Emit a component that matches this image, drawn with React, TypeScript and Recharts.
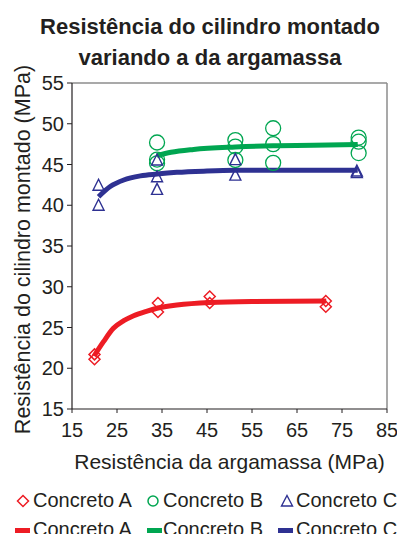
import React from 'react';
import {
  ComposedChart,
  Line,
  Scatter,
  XAxis,
  YAxis,
  ReferenceLine,
} from 'recharts';

// Pontos medidos (MPa): resistência da argamassa x resistência do cilindro
const pontosA = [
  { x: 20.0, y: 21.7 }, { x: 20.0, y: 21.1 },
  { x: 34.1, y: 28.0 }, { x: 34.1, y: 26.9 },
  { x: 45.6, y: 28.8 }, { x: 45.6, y: 28.0 },
  { x: 71.4, y: 28.25 }, { x: 71.4, y: 27.55 },
];
const pontosB = [
  { x: 33.9, y: 47.7 }, { x: 33.9, y: 45.6 }, { x: 33.9, y: 45.15 },
  { x: 51.3, y: 48.0 }, { x: 51.3, y: 47.2 }, { x: 51.3, y: 45.55 },
  { x: 59.7, y: 49.45 }, { x: 59.7, y: 47.5 }, { x: 59.7, y: 45.2 },
  { x: 78.7, y: 48.3 }, { x: 78.7, y: 47.8 }, { x: 78.7, y: 46.4 },
];
const pontosC = [
  { x: 20.9, y: 42.45 }, { x: 20.9, y: 40.0 },
  { x: 33.9, y: 45.55 }, { x: 33.9, y: 43.5 }, { x: 33.9, y: 41.95 },
  { x: 51.3, y: 45.6 }, { x: 51.3, y: 43.7 },
  { x: 78.3, y: 44.0 }, { x: 78.3, y: 44.2 },
];

// Curvas de tendência
const curvaA = [
  { x: 19.9, y: 21.5 }, { x: 22.0, y: 23.26 }, { x: 24.2, y: 24.9 }, { x: 26.5, y: 25.83 },
  { x: 28.7, y: 26.45 }, { x: 31.7, y: 27.02 }, { x: 33.9, y: 27.36 }, { x: 38.3, y: 27.76 },
  { x: 45.6, y: 28.08 }, { x: 55, y: 28.2 }, { x: 71.5, y: 28.25 },
];
const curvaB = [
  { x: 33.9, y: 46.1 }, { x: 37, y: 46.5 }, { x: 42, y: 46.85 }, { x: 51.3, y: 47.15 },
  { x: 59.7, y: 47.3 }, { x: 68.7, y: 47.35 }, { x: 78.5, y: 47.45 },
];
const curvaC = [
  { x: 20.9, y: 41.05 }, { x: 23.5, y: 42.3 }, { x: 26.5, y: 43.1 }, { x: 30.2, y: 43.6 },
  { x: 33.9, y: 43.83 }, { x: 38.3, y: 44.04 }, { x: 45, y: 44.2 }, { x: 51.3, y: 44.28 },
  { x: 65, y: 44.3 }, { x: 78.5, y: 44.3 },
];

const xTicks = [15, 25, 35, 45, 55, 65, 75, 85];
const yTicks = [15, 20, 25, 30, 35, 40, 45, 50, 55];

const VERMELHO = '#ED1C24';
const VERDE = '#00A651';
const AZUL = '#2E3192';
const TEXTO = '#231F20';
const FONTE = '"Liberation Sans", Arial, sans-serif';

const Losango = (props: any) => {
  const { cx, cy } = props;
  const r = 5.5;
  return (
    <path
      d={`M${cx},${cy - r}L${cx + r},${cy}L${cx},${cy + r}L${cx - r},${cy}Z`}
      fill="none"
      stroke={VERMELHO}
      strokeWidth={1.5}
    />
  );
};

const Circulo = (props: any) => {
  const { cx, cy } = props;
  return <circle cx={cx} cy={cy} r={7.5} fill="none" stroke={VERDE} strokeWidth={1.3} />;
};

const Triangulo = (props: any) => {
  const { cx, cy } = props;
  const h = 10;
  return (
    <path
      d={`M${cx},${cy - h / 2 - 1}L${cx + 5.5},${cy + h / 2}L${cx - 5.5},${cy + h / 2}Z`}
      fill="none"
      stroke={AZUL}
      strokeWidth={1.4}
    />
  );
};

// rótulo do eixo Y girado
const RotuloY = (props: any) => {
  const { viewBox } = props;
  const cx = viewBox.x + 23;
  const cy = viewBox.y + viewBox.height / 2 + 3.5;
  return (
    <text
      x={cx}
      y={cy}
      transform={`rotate(-90, ${cx}, ${cy})`}
      textAnchor="middle"
      dominantBaseline="central"
      fill={TEXTO}
      fontSize={21.5}
      fontFamily={FONTE}
    >
      Resistência do cilindro montado (MPa)
    </text>
  );
};

const legendaMarcadores = [
  { nome: 'Concreto A', icone: 'losango', x: 16, tx: 33 },
  { nome: 'Concreto B', icone: 'circulo', x: 146, tx: 163 },
  { nome: 'Concreto C', icone: 'triangulo', x: 280, tx: 296 },
];
const legendaLinhas = [
  { nome: 'Concreto A', cor: VERMELHO, x: 15, tx: 33 },
  { nome: 'Concreto B', cor: VERDE, x: 147, tx: 163 },
  { nome: 'Concreto C', cor: AZUL, x: 278, tx: 296 },
];

function IconeMarcador({ tipo }: { tipo: string }) {
  return (
    <svg width={14} height={14} style={{ display: 'block' }}>
      {tipo === 'losango' && <Losango cx={7} cy={7} />}
      {tipo === 'circulo' && <circle cx={7} cy={7} r={5} fill="none" stroke={VERDE} strokeWidth={1.5} />}
      {tipo === 'triangulo' && (
        <path d="M7,1.5L12.5,12L1.5,12Z" fill="none" stroke={AZUL} strokeWidth={1.4} />
      )}
    </svg>
  );
}

export default function App() {
  return (
    <div
      style={{
        position: 'relative',
        width: 405,
        height: 542,
        margin: -8,
        background: '#fff',
        fontFamily: FONTE,
        color: TEXTO,
        overflow: 'hidden',
      }}
    >
      <div
        style={{
          position: 'absolute',
          left: 10,
          width: 400,
          top: 11,
          textAlign: 'center',
          fontWeight: 'bold',
          fontSize: 22,
          lineHeight: '31px',
        }}
      >
        Resistência do cilindro montado
        <br />
        variando a da argamassa
      </div>

      <div style={{ position: 'absolute', left: 0, top: 0 }}>
        <ComposedChart
          width={405}
          height={480}
          margin={{ top: 83, right: 18, left: 0, bottom: 0 }}
        >
          <XAxis
            type="number"
            dataKey="x"
            domain={[15, 85]}
            ticks={xTicks}
            allowDataOverflow
            height={71}
            tickSize={4}
            tickMargin={10}
            axisLine={{ stroke: TEXTO, strokeWidth: 1.2 }}
            tickLine={{ stroke: TEXTO }}
            tick={{ fill: TEXTO, fontSize: 20, fontFamily: FONTE }}
            label={{
              value: 'Resistência da argamassa (MPa)',
              position: 'insideBottom',
              offset: 11,
              fill: TEXTO,
              fontSize: 21,
              fontFamily: FONTE,
            }}
          />
          <YAxis
            type="number"
            dataKey="y"
            domain={[15, 55]}
            ticks={yTicks}
            allowDataOverflow
            width={72}
            tickSize={5}
            tickMargin={3}
            axisLine={{ stroke: TEXTO, strokeWidth: 1.2 }}
            tickLine={{ stroke: TEXTO }}
            tick={{ fill: TEXTO, fontSize: 20, fontFamily: FONTE }}
            label={{ content: RotuloY }}
          />
          <ReferenceLine y={55} stroke="#8C8C8C" strokeWidth={1.5} />
          <ReferenceLine x={85} stroke="#8C8C8C" strokeWidth={1.5} />

          <Line data={curvaA} dataKey="y" type="monotone" stroke={VERMELHO} strokeWidth={5} dot={false} isAnimationActive={false} />
          <Line data={curvaB} dataKey="y" type="monotone" stroke={VERDE} strokeWidth={5} dot={false} isAnimationActive={false} />
          <Line data={curvaC} dataKey="y" type="monotone" stroke={AZUL} strokeWidth={5} dot={false} isAnimationActive={false} />

          <Scatter data={pontosA} dataKey="y" shape={Losango} isAnimationActive={false} />
          <Scatter data={pontosB} dataKey="y" shape={Circulo} isAnimationActive={false} />
          <Scatter data={pontosC} dataKey="y" shape={Triangulo} isAnimationActive={false} />
        </ComposedChart>
      </div>

      {legendaMarcadores.map((l) => (
        <React.Fragment key={'m' + l.nome}>
          <div style={{ position: 'absolute', left: l.x, top: 494 }}>
            <IconeMarcador tipo={l.icone} />
          </div>
          <div style={{ position: 'absolute', left: l.tx, top: 489, fontSize: 20, lineHeight: '23px' }}>
            {l.nome}
          </div>
        </React.Fragment>
      ))}
      {legendaLinhas.map((l) => (
        <React.Fragment key={'l' + l.nome}>
          <div style={{ position: 'absolute', left: l.x, top: 528, width: 15, height: 5, background: l.cor }} />
          <div style={{ position: 'absolute', left: l.tx, top: 518, fontSize: 20, lineHeight: '23px' }}>
            {l.nome}
          </div>
        </React.Fragment>
      ))}
    </div>
  );
}
